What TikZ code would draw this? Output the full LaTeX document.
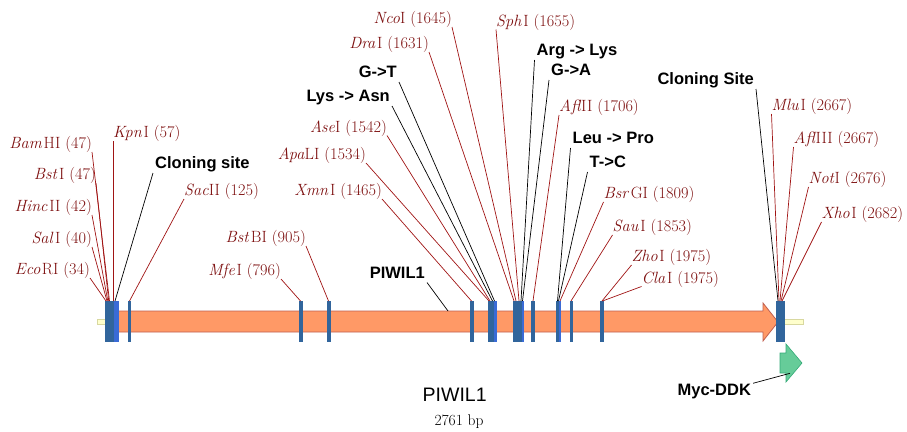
\documentclass[tikz,border=0pt]{standalone}
\usepackage{fontspec}
\newfontfamily\arialf{Liberation Sans}
\definecolor{enzred}{RGB}{125,15,15}
\definecolor{linered}{RGB}{160,20,20}
\definecolor{bardark}{RGB}{49,101,156}
\definecolor{barbright}{RGB}{58,107,214}
\definecolor{orfill}{RGB}{255,153,102}
\definecolor{ordraw}{RGB}{192,96,80}
\definecolor{ylfill}{RGB}{255,255,204}
\definecolor{yldraw}{RGB}{216,216,160}
\definecolor{grfill}{RGB}{102,204,153}
\definecolor{grdraw}{RGB}{51,170,119}
\newcommand{\gp}{\kern1.5pt}
\tikzset{
  enz/.style={text=enzred, font=\fontsize{16.3}{18}\selectfont, inner xsep=0pt, inner ysep=0.5pt, text height=11.5pt, text depth=2.5pt},
  bold/.style={font=\arialf\bfseries\fontsize{16.5}{19}\selectfont, inner xsep=2pt, inner ysep=0.5pt, text height=12pt, text depth=3.5pt},
  rline/.style={draw=linered, line width=0.7pt},
  kline/.style={draw=black, line width=0.7pt},
  bar/.style={fill=bardark},
  barhi/.style={fill=barbright}
}
\begin{document}
\begin{tikzpicture}[x=1pt,y=-1pt]
\useasboundingbox (0,0) rectangle (907,431);
% backbone
\filldraw[fill=ylfill, draw=yldraw, line width=0.6pt] (97,319) rectangle (106,324);
\filldraw[fill=ylfill, draw=yldraw, line width=0.6pt] (783,319) rectangle (803,324);
% ORF arrow
\filldraw[fill=orfill, draw=ordraw, line width=0.8pt]
  (117,311) -- (763,311) -- (763,303) -- (778,322) -- (763,341) -- (763,332) -- (117,332) -- cycle;
% Myc-DDK arrow
\filldraw[fill=grfill, draw=grdraw, line width=0.6pt]
  (780,353) -- (786,353) -- (786,344) -- (802,363) -- (786,382) -- (786,373) -- (780,373) -- cycle;
% bars
\fill[bar] (104.5,301) rectangle (114,342);
\fill[barhi] (114,301) rectangle (118.5,342);
\fill[bar] (127.5,301) rectangle (131,342);
\fill[bar] (299,301) rectangle (302.5,342);
\fill[bar] (327,301) rectangle (330.5,342);
\fill[bar] (470,301) rectangle (473.5,342);
\fill[bar] (487.5,301) rectangle (493.5,342);
\fill[barhi] (493.5,301) rectangle (497,342);
\fill[bar] (512.5,301) rectangle (522,342);
\fill[barhi] (522,301) rectangle (524,342);
\fill[bar] (531,301) rectangle (535,342);
\fill[bar] (556,301) rectangle (559,342);
\fill[barhi] (559,301) rectangle (561,342);
\fill[bar] (569.5,301) rectangle (573,342);
\fill[bar] (600,301) rectangle (604,342);
\fill[bar] (776,301) rectangle (784.5,342);
% bar-top coordinates
\coordinate (tEco) at (106,301);
\coordinate (tSal) at (107,301);
\coordinate (tHinc) at (107.8,301);
\coordinate (tBst) at (108.7,301);
\coordinate (tBam) at (109.5,301);
\coordinate (tKpn) at (113,301);
\coordinate (tClon) at (115,301);
\coordinate (tSac) at (129.5,301);
\coordinate (tMfe) at (300.5,301);
\coordinate (tBstB) at (328.5,301);
\coordinate (tXmn) at (471.5,301);
\coordinate (tApa) at (489,301);
\coordinate (tAse) at (490,301);
\coordinate (tLys) at (492.5,301);
\coordinate (tGT) at (494.5,301);
\coordinate (tDra) at (514,301);
\coordinate (tNco) at (516,301);
\coordinate (tSph) at (519,301);
\coordinate (tArg) at (521,301);
\coordinate (tGA) at (522.5,301);
\coordinate (tAfl) at (533,301);
\coordinate (tLeu) at (557.5,301);
\coordinate (tTC) at (558.5,301);
\coordinate (tBsr) at (560,301);
\coordinate (tSau) at (571,301);
\coordinate (tZho) at (602,301);
\coordinate (tCla) at (602.5,301);
\coordinate (tClon2) at (778,301);
\coordinate (tMlu) at (779,301);
\coordinate (tAfl3) at (780,301);
\coordinate (tNot) at (781,301);
\coordinate (tXho) at (782,301);
\coordinate (tPiwi) at (448,311);
\coordinate (tMyc) at (790,373.3);
% labels
\node[enz, anchor=south east] (bam) at (92,152) {\textit{Bam}\gp HI (47)};
\node[enz, anchor=south east] (bst) at (96,183) {\textit{Bst}\gp I (47)};
\node[enz, anchor=south east] (hinc) at (92,215) {\textit{Hinc}\gp II (42)};
\node[enz, anchor=south east] (sal) at (92,247) {\textit{Sal}\gp I (40)};
\node[enz, anchor=south east] (eco) at (90,278) {\textit{Eco}\gp RI (34)};
\node[enz, anchor=south west] (kpn) at (113,141) {\textit{Kpn}\gp I (57)};
\node[bold, anchor=south west] (clon) at (153,173) {Cloning site};
\node[enz, anchor=south west] (sac) at (184,199) {\textit{Sac}II (125)};
\node[enz, anchor=south east] (mfe) at (281,279) {\textit{Mfe}\gp I (796)};
\node[enz, anchor=south east] (bstb) at (306,246) {\textit{Bst}\gp BI (905)};
\node[enz, anchor=south east] (xmn) at (382,199) {\textit{Xmn}\gp I (1465)};
\node[enz, anchor=south east] (apa) at (366,163) {\textit{Apa}LI (1534)};
\node[enz, anchor=south east] (ase) at (387,135.5) {\textit{Ase}I (1542)};
\node[bold, anchor=south east] (lys) at (392,106) {Lys -> Asn};
\node[bold, anchor=south east] (gt) at (399,82) {G->T};
\node[enz, anchor=south east] (dra) at (429,52) {\textit{Dra}\gp I (1631)};
\node[enz, anchor=south east] (nco) at (452,27) {\textit{Nco}I (1645)};
\node[enz, anchor=south west] (sph) at (496,29.5) {\textit{Sph}\gp I (1655)};
\node[bold, anchor=south west] (arg) at (534.5,60) {Arg -> Lys};
\node[bold, anchor=south west] (ga) at (549,80) {G->A};
\node[enz, anchor=south west] (afl) at (559,115) {\textit{Afl}II (1706)};
\node[bold, anchor=south west] (leu) at (570.5,148) {Leu -> Pro};
\node[bold, anchor=south west] (tc) at (587.5,172) {T->C};
\node[enz, anchor=south west] (bsr) at (603.5,202) {\textit{Bsr}\gp GI (1809)};
\node[enz, anchor=south west] (sau) at (612.5,235) {\textit{Sau}\gp I (1853)};
\node[enz, anchor=south west] (zho) at (631.5,265) {\textit{Zho}\gp I (1975)};
\node[enz, anchor=south west] (cla) at (641.5,286.5) {\textit{Cla}\gp I (1975)};
\node[bold, anchor=south east] (clon2) at (756,89) {Cloning Site};
\node[enz, anchor=south west] (mlu) at (771.5,114) {\textit{Mlu}\gp I (2667)};
\node[enz, anchor=south west] (afl3) at (793.5,147) {\textit{Afl}III (2667)};
\node[enz, anchor=south west] (not) at (808.5,187) {\textit{Not}I (2676)};
\node[enz, anchor=south west] (xho) at (821.5,222) {\textit{Xho}\gp I (2682)};
\node[bold, anchor=south east] (piwi) at (427,282.5) {PIWIL1};
\node[bold, anchor=center] (myc) at (714.3,391.7) {Myc-DDK};
\node[font=\arialf\fontsize{19.5}{22}\selectfont, inner sep=0pt] (title) at (454.7,394.7) {PIWIL1};
\node[font=\fontsize{15.5}{17}\selectfont, inner sep=0pt] (len) at (459,421.7) {2761 bp};
% connectors
\draw[rline] (bam.south east) -- (tBam);
\draw[rline] (bst.south east) -- (tBst);
\draw[rline] (hinc.south east) -- (tHinc);
\draw[rline] (sal.south east) -- (tSal);
\draw[rline] (eco.south east) -- (tEco);
\draw[rline] (kpn.south west) -- (tKpn);
\draw[kline] (clon.south west) -- (tClon);
\draw[rline] (sac.south west) -- (tSac);
\draw[rline] (mfe.south east) -- (tMfe);
\draw[rline] (bstb.south east) -- (tBstB);
\draw[rline] (xmn.south east) -- (tXmn);
\draw[rline] (apa.south east) -- (tApa);
\draw[rline] (ase.south east) -- (tAse);
\draw[kline] (lys.south east) -- (tLys);
\draw[kline] (gt.south east) -- (tGT);
\draw[rline] (dra.south east) -- (tDra);
\draw[rline] (nco.south east) -- (tNco);
\draw[rline] (sph.south west) -- (tSph);
\draw[kline] (arg.south west) -- (tArg);
\draw[kline] (ga.south west) -- (tGA);
\draw[rline] (afl.south west) -- (tAfl);
\draw[kline] (leu.south west) -- (tLeu);
\draw[kline] (tc.south west) -- (tTC);
\draw[rline] (bsr.south west) -- (tBsr);
\draw[rline] (sau.south west) -- (tSau);
\draw[rline] (zho.south west) -- (tZho);
\draw[rline] (cla.south west) -- (tCla);
\draw[kline] (clon2.south east) -- (tClon2);
\draw[rline] (mlu.south west) -- (tMlu);
\draw[rline] (afl3.south west) -- (tAfl3);
\draw[rline] (not.south west) -- (tNot);
\draw[rline] (xho.south west) -- (tXho);
\draw[kline] (piwi.south east) -- (tPiwi);
\draw[kline] (myc.north east) -- (tMyc);
\end{tikzpicture}
\end{document}
